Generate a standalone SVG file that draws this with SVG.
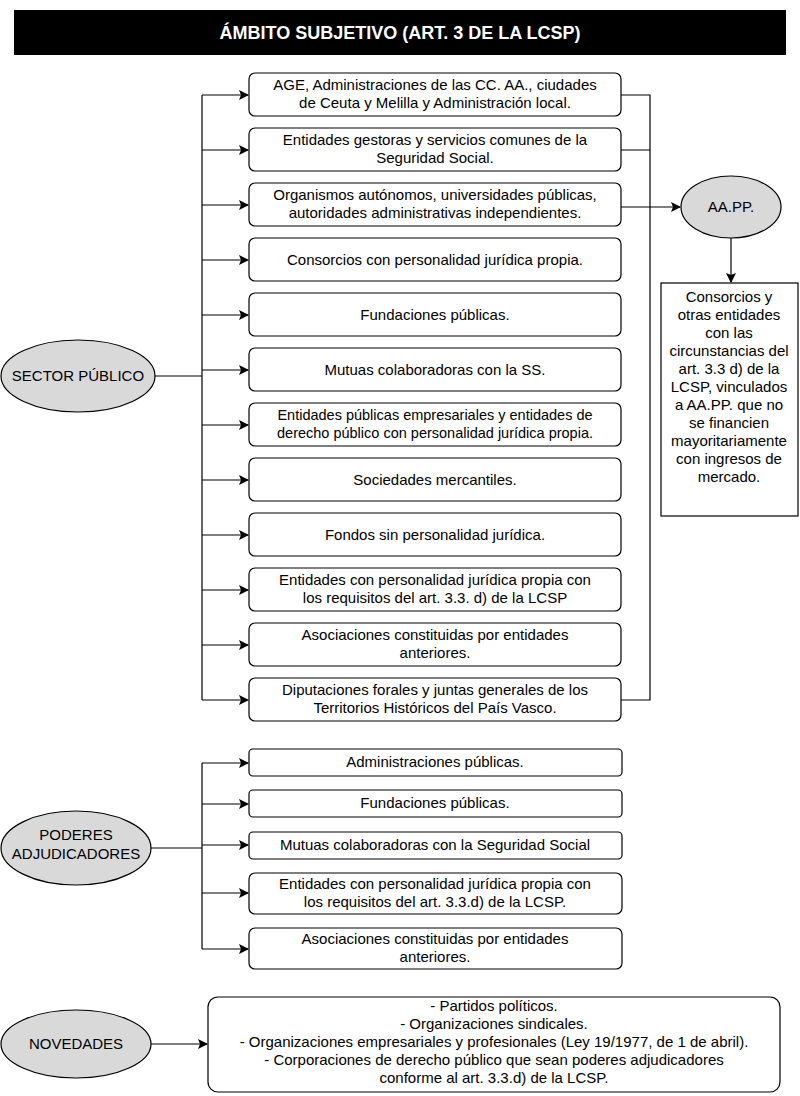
<svg xmlns="http://www.w3.org/2000/svg" width="800" height="1096" viewBox="0 0 800 1096">
<defs><marker id="a" markerWidth="10" markerHeight="10" refX="9" refY="5" orient="auto" markerUnits="userSpaceOnUse"><path d="M0,0 L10,5 L0,10 L2,5 Z" fill="#000"/></marker></defs>
<style>
text{font-family:"Liberation Sans",Arial,sans-serif;font-size:15px;fill:#000;text-anchor:middle}
.b{fill:#fff;stroke:#000;stroke-width:1.2}
.e{fill:#d9d9d9;stroke:#000;stroke-width:1.2}
.c{fill:none;stroke:#000;stroke-width:1.2}
.ar{marker-end:url(#a)}
</style>
<rect width="800" height="1096" fill="#fff"/>
<g id="title"><rect x="14" y="10" width="772" height="45" fill="#000"/><text x="400" y="39" style="fill:#fff;font-weight:bold;font-size:18px">ÁMBITO SUBJETIVO (ART. 3 DE LA LCSP)</text></g>
<g id="connectors">
<path class="c" d="M155,376 H202 M202,95 V700"/>
<path class="c ar" d="M202,95 H248"/><path class="c ar" d="M202,150 H248"/><path class="c ar" d="M202,205 H248"/><path class="c ar" d="M202,260 H248"/><path class="c ar" d="M202,315 H248"/><path class="c ar" d="M202,370 H248"/><path class="c ar" d="M202,425 H248"/><path class="c ar" d="M202,480 H248"/><path class="c ar" d="M202,535 H248"/><path class="c ar" d="M202,590 H248"/><path class="c ar" d="M202,645 H248"/><path class="c ar" d="M202,700 H248"/>
<path class="c" d="M621,95 H650 V700 H621 M621,150 H650"/>
<path class="c ar" d="M621,207 H680"/>
<path class="c ar" d="M731,238 V282"/>
<path class="c" d="M151,848 H202 M202,763 V949"/>
<path class="c ar" d="M202,763 H248"/><path class="c ar" d="M202,804 H248"/><path class="c ar" d="M202,845 H248"/><path class="c ar" d="M202,893 H248"/><path class="c ar" d="M202,949 H248"/>
<path class="c ar" d="M151,1044 H207"/>
</g>
<g id="sp"><ellipse class="e" cx="78" cy="376" rx="77" ry="36"/><text x="78" y="381">SECTOR PÚBLICO</text></g>
<g id="sp1"><rect class="b" x="249" y="73" width="372" height="43" rx="6"/><text x="435" y="90">AGE, Administraciones de las CC. AA., ciudades</text><text x="435" y="108">de Ceuta y Melilla y Administración local.</text></g>
<g id="sp2"><rect class="b" x="249" y="128" width="372" height="43" rx="6"/><text x="435" y="145">Entidades gestoras y servicios comunes de la</text><text x="435" y="163">Seguridad Social.</text></g>
<g id="sp3"><rect class="b" x="249" y="183" width="372" height="43" rx="6"/><text x="435" y="200">Organismos autónomos, universidades públicas,</text><text x="435" y="218">autoridades administrativas independientes.</text></g>
<g id="sp4"><rect class="b" x="249" y="238" width="372" height="43" rx="6"/><text x="435" y="265">Consorcios con personalidad jurídica propia.</text></g>
<g id="sp5"><rect class="b" x="249" y="293" width="372" height="43" rx="6"/><text x="435" y="320">Fundaciones públicas.</text></g>
<g id="sp6"><rect class="b" x="249" y="348" width="372" height="43" rx="6"/><text x="435" y="375">Mutuas colaboradoras con la SS.</text></g>
<g id="sp7"><rect class="b" x="249" y="403" width="372" height="43" rx="6"/><text x="435" y="420" style="font-size:14.5px">Entidades públicas empresariales y entidades de</text><text x="435" y="438" style="font-size:14.5px">derecho público con personalidad jurídica propia.</text></g>
<g id="sp8"><rect class="b" x="249" y="458" width="372" height="43" rx="6"/><text x="435" y="485">Sociedades mercantiles.</text></g>
<g id="sp9"><rect class="b" x="249" y="513" width="372" height="43" rx="6"/><text x="435" y="540">Fondos sin personalidad jurídica.</text></g>
<g id="sp10"><rect class="b" x="249" y="568" width="372" height="43" rx="6"/><text x="435" y="585">Entidades con personalidad jurídica propia con</text><text x="435" y="603">los requisitos del art. 3.3. d) de la LCSP</text></g>
<g id="sp11"><rect class="b" x="249" y="623" width="372" height="43" rx="6"/><text x="435" y="640">Asociaciones constituidas por entidades</text><text x="435" y="658">anteriores.</text></g>
<g id="sp12"><rect class="b" x="249" y="678" width="372" height="43" rx="6"/><text x="435" y="695">Diputaciones forales y juntas generales de los</text><text x="435" y="713">Territorios Históricos del País Vasco.</text></g>
<g id="aapp"><ellipse class="e" cx="731" cy="207" rx="50" ry="31"/><text x="731" y="212">AA.PP.</text></g>
<g id="cons"><rect class="b" x="661" y="283" width="137" height="233"/>
<text x="729" y="302">Consorcios y</text><text x="729" y="320">otras entidades</text><text x="729" y="338">con las</text><text x="729" y="356">circunstancias del</text><text x="729" y="374">art. 3.3 d) de la</text><text x="729" y="392">LCSP, vinculados</text><text x="729" y="410">a AA.PP. que no</text><text x="729" y="428">se financien</text><text x="729" y="446">mayoritariamente</text><text x="729" y="464">con ingresos de</text><text x="729" y="482">mercado.</text></g>
<g id="pa"><ellipse class="e" cx="76" cy="848" rx="75" ry="37"/><text x="76" y="840">PODERES</text><text x="76" y="859">ADJUDICADORES</text></g>
<g id="pa1"><rect class="b" x="249" y="749" width="373" height="27" rx="4"/><text x="435" y="767">Administraciones públicas.</text></g>
<g id="pa2"><rect class="b" x="249" y="790" width="373" height="27" rx="4"/><text x="435" y="808">Fundaciones públicas.</text></g>
<g id="pa3"><rect class="b" x="249" y="832" width="373" height="27" rx="4"/><text x="435" y="850">Mutuas colaboradoras con la Seguridad Social</text></g>
<g id="pa4"><rect class="b" x="249" y="873" width="373" height="41" rx="6"/><text x="435" y="889">Entidades con personalidad jurídica propia con</text><text x="435" y="907">los requisitos del art. 3.3.d) de la LCSP.</text></g>
<g id="pa5"><rect class="b" x="249" y="928" width="373" height="41" rx="6"/><text x="435" y="944">Asociaciones constituidas por entidades</text><text x="435" y="962">anteriores.</text></g>
<g id="nov"><ellipse class="e" cx="76" cy="1044" rx="75" ry="34"/><text x="76" y="1049">NOVEDADES</text></g>
<g id="nov1"><rect class="b" x="208" y="997" width="572" height="95" rx="10"/>
<text x="494" y="1011">- Partidos políticos.</text><text x="494" y="1029">- Organizaciones sindicales.</text><text x="494" y="1047">- Organizaciones empresariales y profesionales (Ley 19/1977, de 1 de abril).</text><text x="494" y="1065">- Corporaciones de derecho público que sean poderes adjudicadores</text><text x="494" y="1083">conforme al art. 3.3.d) de la LCSP.</text></g>
</svg>
